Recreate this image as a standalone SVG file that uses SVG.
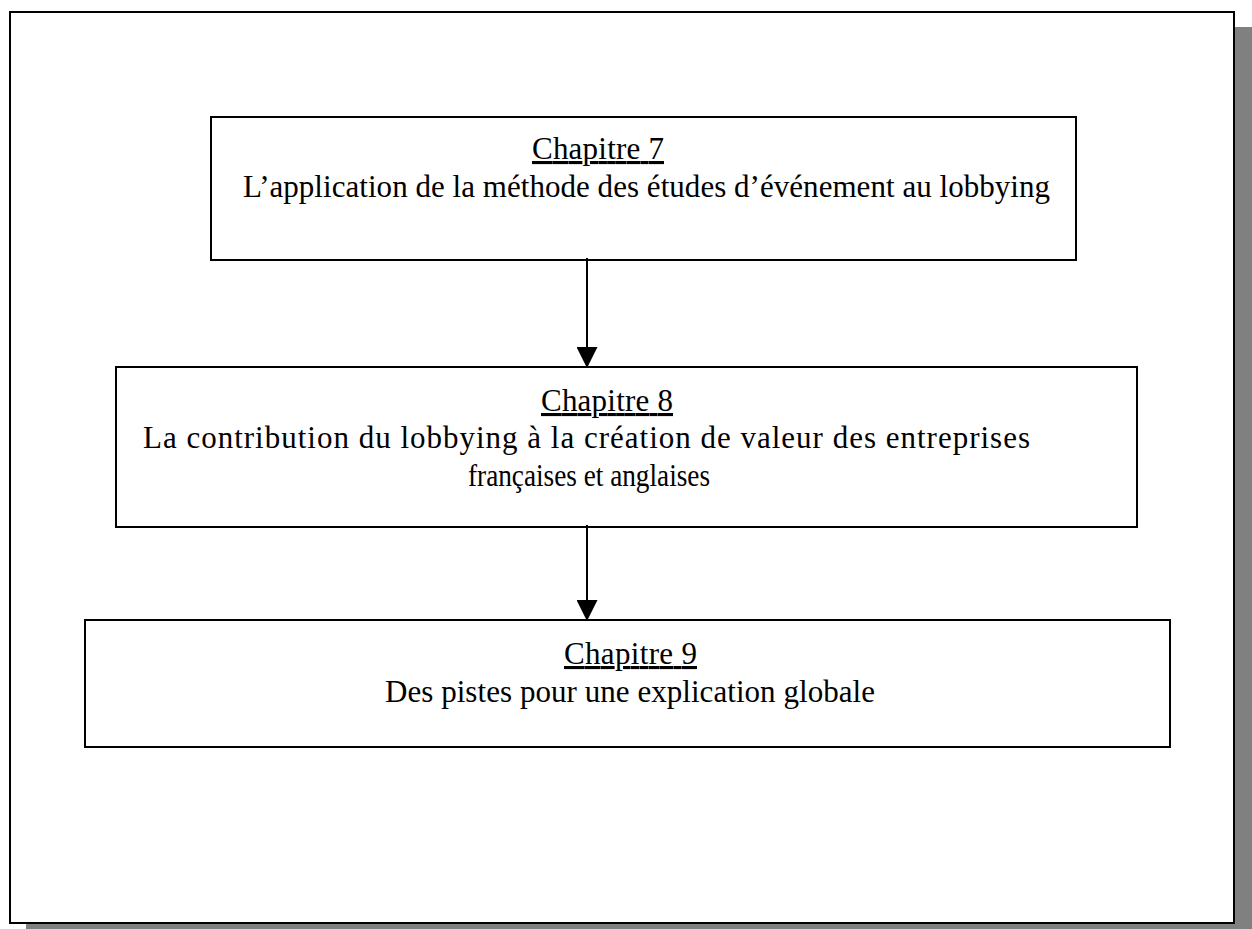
<svg xmlns="http://www.w3.org/2000/svg" width="1252" height="929" viewBox="0 0 1252 929">
<style>
  .box { fill: #ffffff; stroke: #000000; stroke-width: 2; }
  .t { font-family: "Liberation Serif", "Times New Roman", serif; font-size: 31px; fill: #000000; }
  .u { text-decoration: underline; }
  .conn { stroke: #000000; stroke-width: 2; fill: none; }
</style>
<defs>
  <marker id="arrow" markerWidth="21" markerHeight="21" refX="21" refY="10.5" orient="auto" markerUnits="userSpaceOnUse">
    <path d="M0,0 L21,10.5 L0,21 Z" fill="#000000"/>
  </marker>
</defs>
<rect x="0" y="0" width="1252" height="929" fill="#ffffff"/>
<g id="frame">
  <rect x="26" y="27" width="1226" height="902" fill="#808080"/>
  <rect x="10" y="12" width="1224" height="911" class="box" stroke-width="2.5"/>
</g>
<g id="chapitre7">
  <rect x="211" y="117" width="865" height="143" class="box"/>
  <text class="t u" x="532" y="159" textLength="132" lengthAdjust="spacing">Chapitre 7</text>
  <text class="t" x="243" y="197" textLength="807" lengthAdjust="spacing">L’application de la méthode des études d’événement au lobbying</text>
</g>
<g id="chapitre8">
  <rect x="116" y="367" width="1021" height="160" class="box"/>
  <text class="t u" x="541" y="411" textLength="132" lengthAdjust="spacing">Chapitre 8</text>
  <text class="t" x="143" y="448" textLength="887" lengthAdjust="spacing">La contribution du lobbying à la création de valeur des entreprises</text>
  <text class="t" x="468" y="486" textLength="242" lengthAdjust="spacingAndGlyphs">françaises et anglaises</text>
</g>
<g id="chapitre9">
  <rect x="85" y="620" width="1085" height="127" class="box"/>
  <text class="t u" x="564" y="664" textLength="133" lengthAdjust="spacing">Chapitre 9</text>
  <text class="t" x="385" y="702" textLength="490" lengthAdjust="spacing">Des pistes pour une explication globale</text>
</g>
<g id="connectors">
  <line x1="587" y1="258" x2="587" y2="368" class="conn" marker-end="url(#arrow)"/>
  <line x1="587" y1="525" x2="587" y2="621" class="conn" marker-end="url(#arrow)"/>
</g>
</svg>
